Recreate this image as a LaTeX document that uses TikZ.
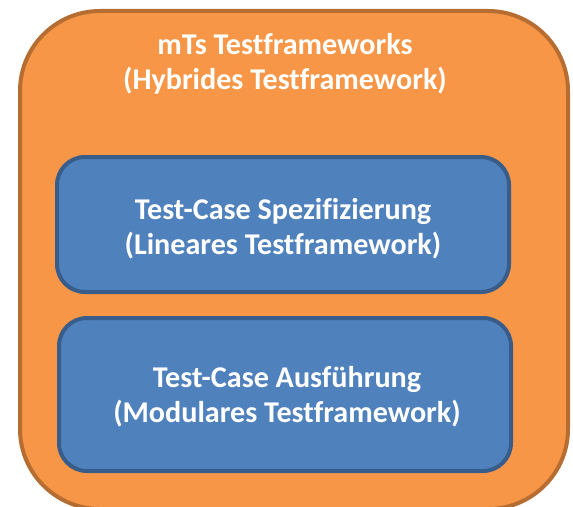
\documentclass[tikz,border=0pt]{standalone}
\usepackage{fontspec}
\setmainfont{Carlito}[Ligatures={NoCommon}]
\definecolor{orfill}{HTML}{F79646}
\definecolor{ordraw}{HTML}{B66D31}
\definecolor{blfill}{HTML}{4F81BD}
\definecolor{bldraw}{HTML}{385D8A}
\tikzset{
  outerbox/.style={draw=ordraw, fill=orfill, line width=3pt, rounded corners=60pt, rectangle, inner sep=0pt},
  innerbox/.style={draw=bldraw, fill=blfill, line width=3pt, rounded corners=21pt, rectangle, inner sep=0pt},
  label/.style={text=white, font=\bfseries\fontsize{22.6}{26.2}\selectfont, align=center, inner sep=0pt}
}
\begin{document}
\begin{tikzpicture}[x=0.75pt, y=-0.75pt]
\useasboundingbox (0,0) rectangle (573,506);
\node[outerbox, minimum width=548*0.75pt, minimum height=498*0.75pt] (outer) at (294,260) {};
\node[label] (title) at (285,64) {mTs Testframeworks\\(Hybrides Testframework)};
\node[innerbox, minimum width=452*0.75pt, minimum height=135*0.75pt] (spec) at (283,224.5) {};
\node[label] (spectext) at (283,229) {Test-Case Spezifizierung\\(Lineares Testframework)};
\node[innerbox, minimum width=452*0.75pt, minimum height=153*0.75pt] (ausf) at (285,394.5) {};
\node[label] (ausftext) at (287,397) {Test-Case Ausführung\\(Modulares Testframework)};
\end{tikzpicture}
\end{document}
